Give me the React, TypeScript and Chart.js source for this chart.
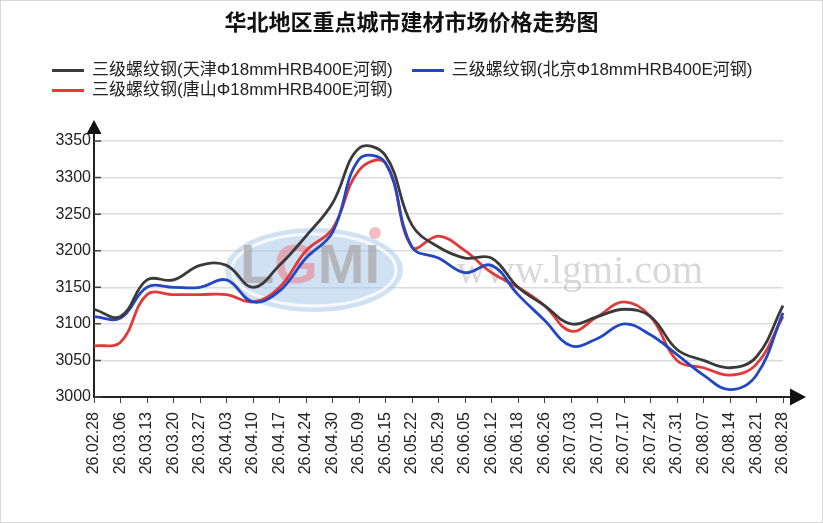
import { useEffect, useRef } from 'react'
import { Chart, registerables } from 'chart.js'

Chart.register(...registerables)

const title = '华北地区重点城市建材市场价格走势图'

const dates = [
  '26.02.28', '26.03.06', '26.03.13', '26.03.20', '26.03.27', '26.04.03', '26.04.10',
  '26.04.17', '26.04.24', '26.04.30', '26.05.09', '26.05.15', '26.05.22', '26.05.29',
  '26.06.05', '26.06.12', '26.06.18', '26.06.26', '26.07.03', '26.07.10', '26.07.17',
  '26.07.24', '26.07.31', '26.08.07', '26.08.14', '26.08.21', '26.08.28',
]

const seriesNames = [
  '三级螺纹钢(天津Φ18mmHRB400E河钢)',
  '三级螺纹钢(北京Φ18mmHRB400E河钢)',
  '三级螺纹钢(唐山Φ18mmHRB400E河钢)',
]

const tianjin = [
  3120, 3110, 3160, 3160, 3180, 3180, 3150, 3180, 3220, 3265, 3340, 3330, 3235, 3205,
  3190, 3190, 3150, 3125, 3100, 3110, 3120, 3110, 3065, 3050, 3040, 3055, 3125,
]
const beijing = [
  3110, 3108, 3150, 3150, 3150, 3160, 3130, 3145, 3190, 3225, 3325, 3320, 3205, 3190,
  3170, 3180, 3140, 3105, 3070, 3080, 3100, 3085, 3058, 3030, 3010, 3030, 3115,
]
const tangshan = [
  3070, 3075, 3140, 3140, 3140, 3140, 3130, 3150, 3200, 3230, 3310, 3320, 3205, 3220,
  3200, 3170, 3150, 3125, 3090, 3110, 3130, 3110, 3050, 3040, 3030, 3045, 3110,
]

const yMin = 3000
const yMax = 3350
const yStep = 50

const colors = ['#3a3a3a', '#2346c2', '#e03a3a']

const FONT = '"Liberation Sans", Arial, "Noto Sans CJK SC", sans-serif'

// faint site logo behind the lines
const watermark = {
  id: 'watermark',
  beforeDatasetsDraw(chart: Chart) {
    const { ctx } = chart
    ctx.save()
    ctx.beginPath()
    ctx.ellipse(314, 270, 89, 42, 0, 0, Math.PI * 2)
    ctx.fillStyle = 'rgba(170, 200, 235, 0.55)'
    ctx.fill()
    ctx.beginPath()
    ctx.ellipse(314, 270, 82, 36, 0, 0, Math.PI * 2)
    ctx.strokeStyle = 'rgba(255, 255, 255, 0.8)'
    ctx.lineWidth = 3
    ctx.stroke()

    ctx.font = 'bold 56px "Liberation Sans", Arial, sans-serif'
    ctx.textBaseline = 'alphabetic'
    let x = 240
    for (const ch of ['L', 'G', 'M', 'I']) {
      ctx.fillStyle = ch === 'G' ? 'rgba(230, 150, 160, 0.75)' : 'rgba(170, 170, 170, 0.75)'
      ctx.fillText(ch, x, 283)
      x += ctx.measureText(ch).width
    }
    ctx.beginPath()
    ctx.arc(375, 233, 6, 0, Math.PI * 2)
    ctx.fillStyle = 'rgba(240, 170, 180, 0.8)'
    ctx.fill()

    ctx.font = '40px "Liberation Serif", "Times New Roman", serif'
    ctx.fillStyle = 'rgba(190, 190, 190, 0.6)'
    ctx.textAlign = 'center'
    ctx.textBaseline = 'middle'
    ctx.fillText('www.lgmi.com', 580, 272)
    ctx.restore()
  },
}

// axis arrows and inner tick marks on the y axis
const axisArrows = {
  id: 'axisArrows',
  afterDraw(chart: Chart) {
    const { ctx, chartArea } = chart
    const { left, right, top, bottom } = chartArea
    const y = chart.scales.y
    ctx.save()
    ctx.strokeStyle = '#222'
    ctx.fillStyle = '#111'
    ctx.lineWidth = 2

    ctx.beginPath()
    ctx.moveTo(left, top)
    ctx.lineTo(left, top - 8)
    ctx.moveTo(right, bottom)
    ctx.lineTo(right + 8, bottom)
    ctx.stroke()

    ctx.beginPath()
    ctx.moveTo(left, top - 21)
    ctx.lineTo(left - 7.5, top - 7)
    ctx.lineTo(left + 7.5, top - 7)
    ctx.closePath()
    ctx.fill()

    ctx.beginPath()
    ctx.moveTo(right + 23, bottom)
    ctx.lineTo(right + 7, bottom - 8.5)
    ctx.lineTo(right + 7, bottom + 8.5)
    ctx.closePath()
    ctx.fill()

    ctx.lineWidth = 1.5
    ctx.strokeStyle = '#444'
    ctx.beginPath()
    for (const t of y.ticks) {
      const py = y.getPixelForValue(t.value)
      ctx.moveTo(left, py)
      ctx.lineTo(left + 7, py)
    }
    ctx.stroke()
    ctx.restore()
  },
}

function PriceTrendChart() {
  const chartRef = useRef<HTMLCanvasElement>(null)
  const chartInstance = useRef<Chart | null>(null)

  useEffect(() => {
    if (!chartRef.current) return
    if (chartInstance.current) chartInstance.current.destroy()
    const ctx = chartRef.current.getContext('2d')
    if (!ctx) return

    Chart.defaults.font.family = FONT

    const values = [tianjin, beijing, tangshan]

    chartInstance.current = new Chart(ctx, {
      type: 'line',
      data: {
        labels: dates,
        datasets: values.map((data, i) => ({
          label: seriesNames[i],
          data,
          borderColor: colors[i],
          backgroundColor: colors[i],
          borderWidth: 2.8,
          pointRadius: 0,
          tension: 0.4,
          fill: false,
        })),
      },
      options: {
        responsive: false,
        animation: false,
        layout: { padding: { top: 141, right: 40, left: 0, bottom: 0 } },
        plugins: {
          legend: { display: false },
          title: { display: false },
          tooltip: { enabled: false },
        },
        scales: {
          x: {
            offset: false,
            afterFit(scale) {
              scale.height = 126
            },
            border: { display: true, color: '#222', width: 2 },
            grid: {
              drawOnChartArea: false,
              drawTicks: true,
              tickLength: 6,
              color: '#444',
              lineWidth: 1,
            },
            ticks: {
              autoSkip: false,
              maxRotation: 90,
              minRotation: 90,
              padding: 9,
              color: '#222',
              font: { size: 16 },
            },
          },
          y: {
            min: yMin,
            max: yMax,
            afterFit(scale) {
              scale.width = 94
            },
            border: { display: true, color: '#222', width: 2 },
            grid: {
              color: '#dcdcdc',
              lineWidth: 1.5,
              drawTicks: false,
            },
            ticks: {
              stepSize: yStep,
              padding: 3,
              color: '#222',
              font: { size: 16 },
              callback: (value) => String(value),
            },
          },
        },
      },
      plugins: [watermark, axisArrows],
    })

    return () => {
      if (chartInstance.current) {
        chartInstance.current.destroy()
        chartInstance.current = null
      }
    }
  }, [])

  return (
    <div
      style={{
        position: 'absolute',
        left: 0,
        top: 0,
        width: 823,
        height: 523,
        background: '#fff',
        boxShadow: 'inset 0 0 0 1px #d8d8d8',
        fontFamily: FONT,
      }}
    >
      <canvas ref={chartRef} width={823} height={523} style={{ position: 'absolute', left: 0, top: 0 }} />
      <div
        style={{
          position: 'absolute',
          top: 9,
          width: '100%',
          textAlign: 'center',
          fontWeight: 'bold',
          fontSize: 22,
          lineHeight: '28px',
          color: '#111',
        }}
      >
        {title}
      </div>
      <div
        style={{
          position: 'absolute',
          left: 52,
          top: 60,
          width: 720,
          display: 'flex',
          flexWrap: 'wrap',
          columnGap: 19,
          fontSize: 17,
          lineHeight: '20px',
          color: '#222',
        }}
      >
        {seriesNames.map((name, i) => (
          <div key={name} style={{ display: 'flex', alignItems: 'center', gap: 8 }}>
            <div style={{ width: 32, height: 3, background: colors[i] }} />
            <span>{name}</span>
          </div>
        ))}
      </div>
    </div>
  )
}

export default function App() {
  return <PriceTrendChart />
}
